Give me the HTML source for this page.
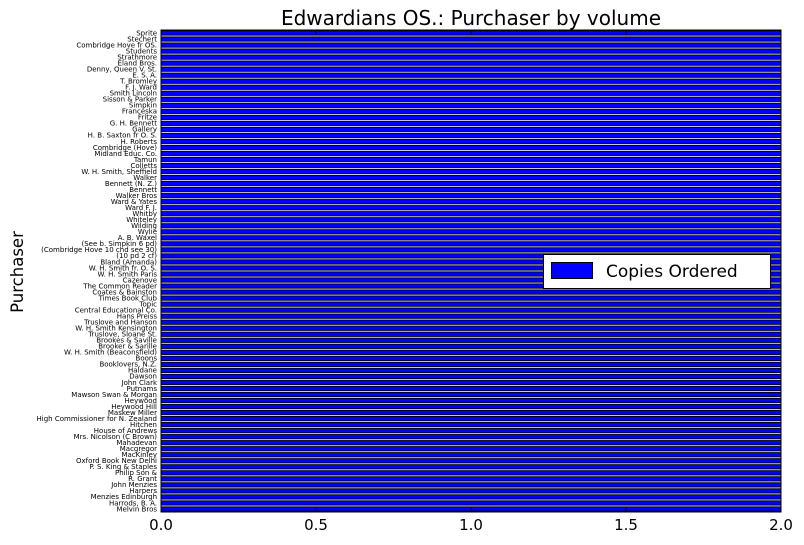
<!DOCTYPE html>
<html><head><meta charset="utf-8"><style>
body{margin:0;background:#fff;}
svg{display:block;font-family:"DejaVu Sans","Liberation Sans",sans-serif;}
</style></head><body>
<svg id="chart" width="804" height="545" viewBox="0 0 804 545">
<text x="471" y="25" text-anchor="middle" font-size="20">Edwardians OS.: Purchaser by volume</text>
<text transform="translate(23,272) rotate(-90)" text-anchor="middle" font-size="16.5">Purchaser</text>
<g id="bars"></g>
<g id="ylabels"></g>
<g id="xticks"></g>
<rect x="161" y="30" width="620" height="482" fill="none" stroke="#000" stroke-width="1"/>
<g>
<rect x="543.5" y="254.5" width="227" height="34" fill="#fff" stroke="#000"/>
<rect x="551.5" y="262.5" width="41" height="16" fill="#0000ff" stroke="#000"/>
<text x="606" y="277" font-size="17">Copies Ordered</text>
</g>
</svg>
<script>
const categories = ["Sprite","Stechert","Combridge Hove fr OS.","Students","Strathmore","Eland Bros.","Denny, Queen V. St.","E. S. A.","T. Bromley","F. J. Ward","Smith Lincoln","Sisson & Parker","Simpkin","Franceska","Fritze","G. H. Bennett","Gallery","H. B. Saxton fr O. S.","H. Roberts","Combridge (Hove)","Midland Educ. Co.","Tamun","Colletts","W. H. Smith, Sheffield","Walker","Bennett (N. Z.)","Bennett","Walker Bros","Ward & Yates","Ward F. J.","Whitby","Whiteley","Wilding","Wylie","A. B. Waxel","(See b. Simpkin 6 pd)","(Combridge Hove 10 chd see 30)","(10 pd 2 cf)","Bland (Amanda)","W. H. Smith fr. O. S.","W. H. Smith Paris","Cazenove","The Common Reader","Coates & Bainston","Times Book Club","Topic","Central Educational Co.","Hans Preiss","Truslove and Hanson","W. H. Smith Kensington","Truslove, Sloane St.","Brookes & Saville","Brooker & Sarille","W. H. Smith (Beaconsfield)","Boons","Booklovers, N.Z.","Haldane","Dawson","John Clark","Putnams","Mawson Swan & Morgan","Heywood","Heywood Hill","Maskew Miller","High Commissioner for N. Zealand","Hitchen","House of Andrews","Mrs. Nicolson (C Brown)","Mahadevan","Macgregor","MacKinley","Oxford Book New Delhi","P. S. King & Staples","Philip Son &","R. Grant","John Menzies","Harpers","Menzies Edinburgh","Harrods, B. A.","Melvin Bros"];
const copiesOrdered = [2,2,2,2,2,2,2,2,2,2,2,2,2,2,2,2,2,2,2,2,2,2,2,2,2,2,2,2,2,2,2,2,2,2,2,2,2,2,2,2,2,2,2,2,2,2,2,2,2,2,2,2,2,2,2,2,2,2,2,2,2,2,2,2,2,2,2,2,2,2,2,2,2,2,2,2,2,2,2,2];
const xTicks = [0, 0.5, 1.0, 1.5, 2.0];
const xTickLabels = ["0.0","0.5","1.0","1.5","2.0"];

const NS="http://www.w3.org/2000/svg";
const L=161,R=781,T=30,B=512,xMax=2.0;
const xs=v=>L+(v/xMax)*(R-L);
const pitch=(B-T)/categories.length;
const yc=i=>T+(i+0.5)*pitch;
const bars=document.getElementById('bars'),yl=document.getElementById('ylabels'),xt=document.getElementById('xticks');
categories.forEach((c,i)=>{
  const h=pitch*0.72;
  const r=document.createElementNS(NS,'rect');
  r.setAttribute('x',xs(0));r.setAttribute('y',yc(i)-h/2);
  r.setAttribute('width',xs(copiesOrdered[i])-xs(0));r.setAttribute('height',h);
  r.setAttribute('fill','#0000ff');r.setAttribute('stroke','#000');r.setAttribute('stroke-width','0.9');
  
  
  bars.appendChild(r);
  const t=document.createElementNS(NS,'text');
  t.setAttribute('x',157);t.setAttribute('y',yc(i)+2.3);
  t.setAttribute('text-anchor','end');t.setAttribute('font-size','7');
  t.textContent=c;
  
  
  yl.appendChild(t);
});
xTicks.forEach((v,i)=>{
  const x=xs(v);
  [[B,B-5],[T,T+5]].forEach(p=>{
    const l=document.createElementNS(NS,'line');
    l.setAttribute('x1',x);l.setAttribute('x2',x);l.setAttribute('y1',p[0]);l.setAttribute('y2',p[1]);
    l.setAttribute('stroke','#000');
    
    
    xt.appendChild(l);
  });
  const t=document.createElementNS(NS,'text');
  t.setAttribute('x',x);t.setAttribute('y',530);t.setAttribute('text-anchor','middle');t.setAttribute('font-size','15');
  t.textContent=xTickLabels[i];
  
  
  xt.appendChild(t);
});
</script>
</body></html>
